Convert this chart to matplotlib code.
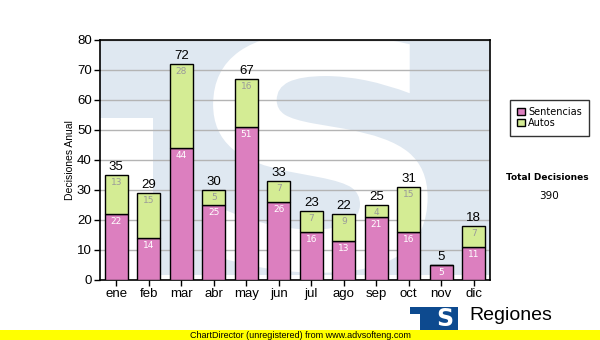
import matplotlib.pyplot as plt
import matplotlib.patches as mpatches
from matplotlib.textpath import TextPath
from matplotlib.font_manager import FontProperties
from matplotlib.transforms import Affine2D
import numpy as np

meses = ['ene', 'feb', 'mar', 'abr', 'may', 'jun', 'jul', 'ago', 'sep', 'oct', 'nov', 'dic']
sentencias = [22, 14, 44, 25, 51, 26, 16, 13, 21, 16, 5, 11]
autos = [13, 15, 28, 5, 16, 7, 7, 9, 4, 15, 0, 7]
yticks = [0, 10, 20, 30, 40, 50, 60, 70, 80]

rosa = '#dc7fbf'
verde = '#d4ec94'
fondo = '#dfe8f1'

plt.rcParams['font.family'] = ['Liberation Sans', 'DejaVu Sans']

fig = plt.figure(figsize=(6, 3.4), dpi=100)
ax = fig.add_axes([100/600, 60/340, 390/600, 240/340])
ax.set_facecolor(fondo)

# marca de agua "TS" detras de las barras
ax.add_patch(mpatches.Rectangle((0, 0), 0.136, 0.675, transform=ax.transAxes,
                                facecolor='white', edgecolor='none', zorder=0))
ax.add_patch(mpatches.Rectangle((0, 0), 1, 0.02, transform=ax.transAxes,
                                facecolor='white', edgecolor='none', zorder=0))
tp = TextPath((0, 0), 'S', size=1, prop=FontProperties(family='DejaVu Sans', weight='bold'))
bb = tp.get_extents()
# la S ocupa de x=0.29 a 0.84 y de y=0.03 a 1.03 en coordenadas del eje
sx = 0.55 / bb.width
sy = 1.0 / bb.height
tr = Affine2D().translate(-bb.x0, -bb.y0).scale(sx, sy).translate(0.29, 0.03)
ax.add_patch(mpatches.PathPatch(tr.transform_path(tp), transform=ax.transAxes,
                                facecolor='white', edgecolor='none', zorder=0,
                                clip_on=True))

x = np.arange(len(meses))
total = [s + a for s, a in zip(sentencias, autos)]

ax.bar(x, sentencias, width=0.7, color=rosa, edgecolor='black', linewidth=1,
       label='Sentencias', zorder=3)
ax.bar(x, autos, width=0.7, bottom=sentencias, color=verde, edgecolor='black',
       linewidth=1, label='Autos', zorder=3)

for i in range(len(meses)):
    ax.text(x[i], sentencias[i] - 1.0, str(sentencias[i]), ha='center', va='top',
            fontsize=6.5, color='white', family='DejaVu Sans', zorder=4)
    if autos[i] > 0:
        ax.text(x[i], total[i] - 1.0, str(autos[i]), ha='center', va='top',
                fontsize=6.5, color='#9a9a9a', family='DejaVu Sans', zorder=4)
    ax.text(x[i], total[i] + 0.5, str(total[i]), ha='center', va='bottom',
            fontsize=9.5, color='black', zorder=4)

ax.set_xlim(-0.5, len(meses) - 0.5)
ax.set_ylim(0, 80)
ax.set_yticks(yticks)
ax.set_xticks(x)
ax.set_xticklabels(meses)
ax.tick_params(labelsize=9.5, length=4, width=1, color='black', pad=2)
ax.yaxis.grid(True, color='#b4b4b4', linewidth=1, zorder=1)
ax.set_axisbelow(True)
for s in ax.spines.values():
    s.set_linewidth(1.2)
ax.set_ylabel('Decisiones Anual', fontsize=7.5, labelpad=1)

leg = ax.legend(loc='upper left', bbox_to_anchor=(510/600, 1 - 100/340),
                bbox_transform=fig.transFigure, frameon=True,
                fancybox=False, edgecolor='black', handlelength=0.75,
                handleheight=0.75, handletextpad=0.35, borderpad=0.75,
                labelspacing=0.1, borderaxespad=0,
                prop={'family': 'DejaVu Sans', 'size': 7})
leg.get_frame().set_linewidth(1)

fig.text(547/600, 1 - 177/340, 'Total Decisiones', ha='center', va='center',
         fontsize=6.5, fontweight='bold', family='DejaVu Sans')
fig.text(549/600, 1 - 196/340, '390', ha='center', va='center',
         fontsize=7.5, family='DejaVu Sans')

# franja amarilla inferior
fig.patches.append(mpatches.Rectangle((0, 0), 1, 10/340, transform=fig.transFigure,
                                      facecolor='#ffff00', edgecolor='none', zorder=5))
fig.text(300/600, 5/340, 'ChartDirector (unregistered) from www.advsofteng.com',
         ha='center', va='center', fontsize=6.5, zorder=6)

# logo
azul = '#0d4a8f'
fig.patches.append(mpatches.Rectangle((410/600, 26/340), 22/600, 7/340,
                                      transform=fig.transFigure, facecolor=azul,
                                      edgecolor='none', zorder=4))
fig.patches.append(mpatches.Rectangle((420/600, 10/340), 38/600, 23/340,
                                      transform=fig.transFigure, facecolor=azul,
                                      edgecolor='none', zorder=4))
fig.text(445/600, 21/340, 'S', ha='center', va='center', fontsize=17,
         fontweight='bold', color='white', family='DejaVu Sans', zorder=4)
fig.text(469/600, 24/340, 'Regiones', ha='left', va='center', fontsize=14, zorder=4)

fig.savefig('out.png', dpi=100)
